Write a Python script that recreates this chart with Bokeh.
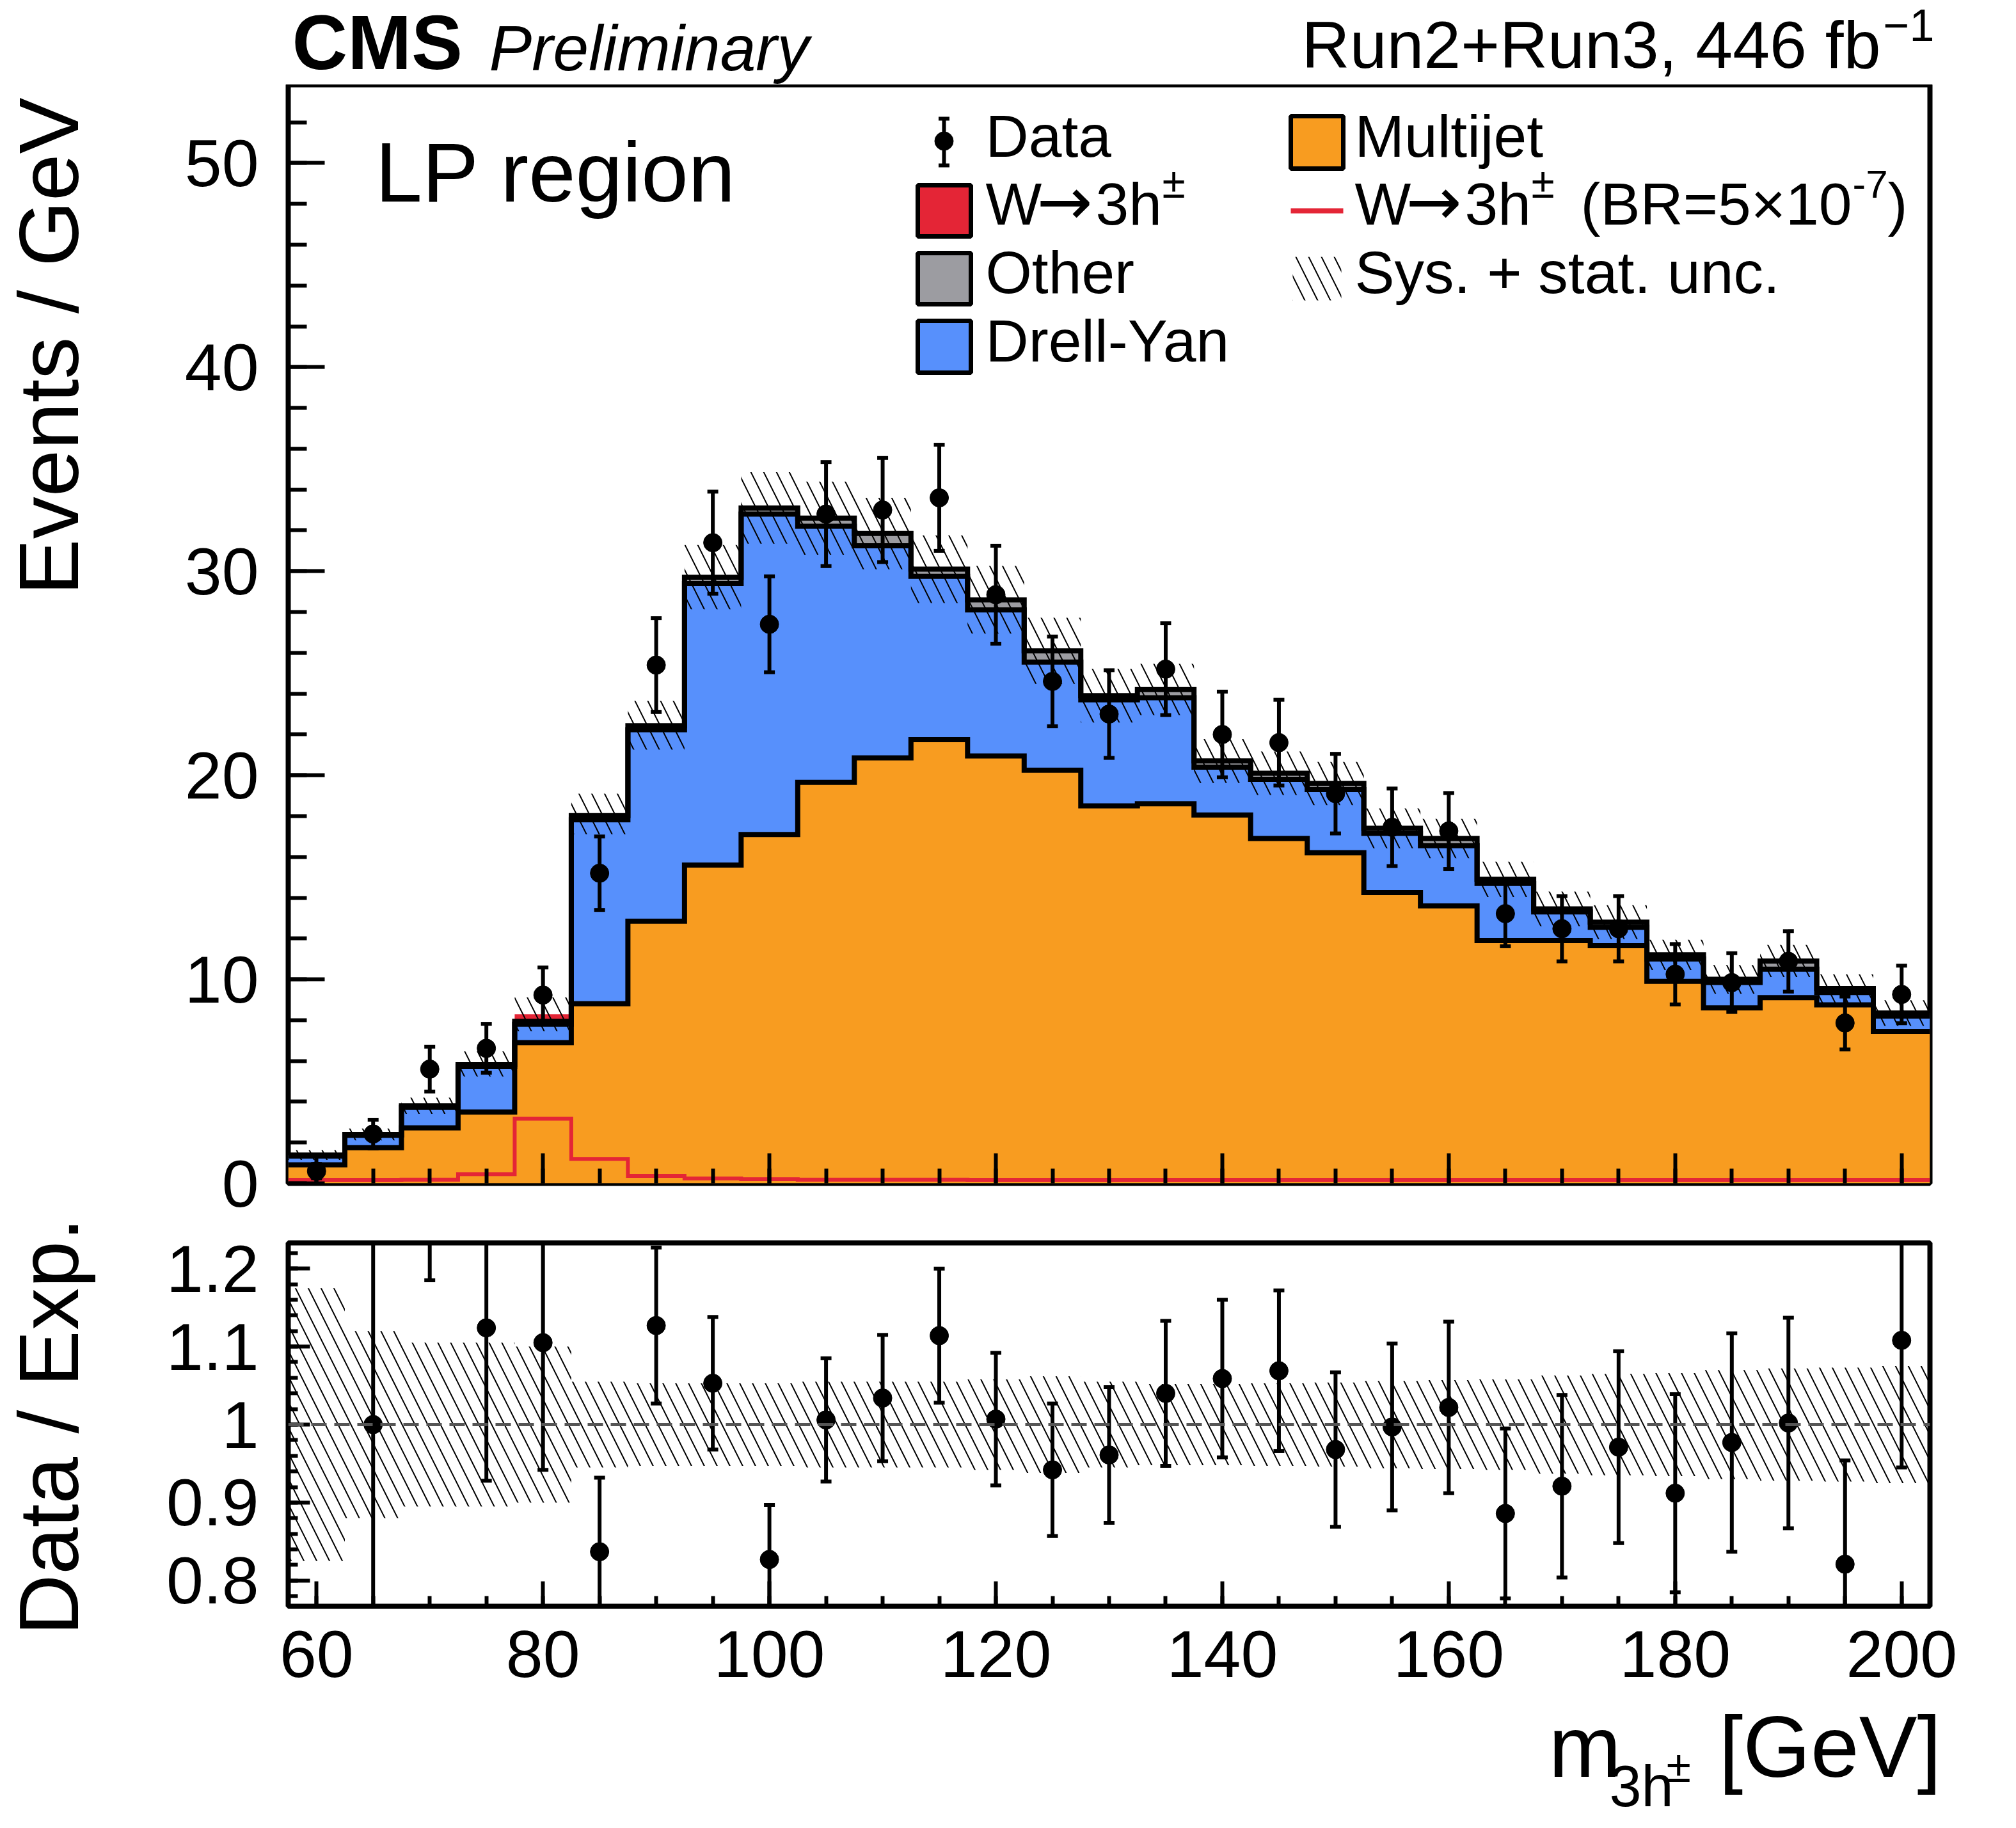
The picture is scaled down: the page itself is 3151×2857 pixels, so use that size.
import math
from bokeh.plotting import figure
from bokeh.layouts import column, row
from bokeh.models import Range1d, FixedTicker, Label, BoxAnnotation, Span
from bokeh.embed import file_html
from bokeh.resources import INLINE

# ---- values ----
bin_centers = [60, 65, 70, 75, 80, 85, 90, 95, 100, 105, 110, 115, 120, 125, 130,
               135, 140, 145, 150, 155, 160, 165, 170, 175, 180, 185, 190, 195, 200]
bin_width = 5

multijet = [0.91, 1.75, 2.72, 3.5, 6.9, 8.8, 12.85, 15.6, 17.1, 19.65, 20.85, 21.75, 20.95, 20.25, 18.5,
            18.6, 18.05, 16.9, 16.2, 14.25, 13.6, 11.9, 11.9, 11.65, 9.9, 8.6, 9.1, 8.75, 7.45]
drell_yan = [0.43, 0.6, 1.0, 2.22, 0.9, 9.02, 9.38, 13.8, 15.7, 12.55, 10.4, 8.0, 7.15, 5.3, 5.2,
             5.2, 2.35, 2.9, 3.1, 2.9, 2.95, 2.8, 1.4, 0.9, 1.1, 1.25, 1.4, 0.6, 0.75]
other = [0.05, 0.05, 0.08, 0.1, 0.14, 0.2, 0.2, 0.3, 0.3, 0.4, 0.6, 0.35, 0.5, 0.55, 0.2,
         0.4, 0.3, 0.3, 0.3, 0.25, 0.35, 0.2, 0.15, 0.25, 0.2, 0.15, 0.4, 0.2, 0.15]
signal_stack = [0.0, 0.0, 0.0, 0.03, 0.35, 0.08, 0.02, 0.01, 0.0, 0.0, 0.0, 0.0, 0.0, 0.0, 0.0,
                0.0, 0.0, 0.0, 0.0, 0.0, 0.0, 0.0, 0.0, 0.0, 0.0, 0.0, 0.0, 0.0, 0.0]
signal_br = [0.17, 0.17, 0.18, 0.45, 3.17, 1.2, 0.36, 0.24, 0.2, 0.18, 0.18, 0.18, 0.17, 0.17, 0.17,
             0.17, 0.17, 0.17, 0.17, 0.17, 0.17, 0.17, 0.17, 0.17, 0.17, 0.17, 0.17, 0.17, 0.17]
rel_unc = [0.175, 0.12, 0.105, 0.105, 0.10, 0.055, 0.053, 0.053, 0.053, 0.055, 0.055, 0.055, 0.058, 0.062, 0.055,
           0.052, 0.052, 0.053, 0.054, 0.056, 0.057, 0.058, 0.063, 0.065, 0.066, 0.07, 0.072, 0.073, 0.075]

data_y = [0.6, 2.42, 5.6, 6.62, 9.23, 15.2, 25.4, 31.4, 27.4, 32.8, 33.0, 33.6, 28.85, 24.6, 23.0,
          25.2, 22.0, 21.6, 19.1, 17.45, 17.27, 13.22, 12.48, 12.48, 10.25, 9.84, 10.88, 7.86, 9.26]
data_err = [0.35, 0.7, 1.1, 1.2, 1.35, 1.8, 2.3, 2.5, 2.35, 2.55, 2.55, 2.6, 2.4, 2.2, 2.15,
            2.25, 2.1, 2.1, 1.95, 1.9, 1.86, 1.6, 1.6, 1.6, 1.48, 1.44, 1.48, 1.3, 1.41]

ratio_y = [0.43, 1.0, 1.43, 1.124, 1.105, 0.837, 1.127, 1.053, 0.827, 1.006, 1.034, 1.114, 1.007, 0.942, 0.961,
           1.04, 1.059, 1.069, 0.968, 0.997, 1.022, 0.886, 0.921, 0.971, 0.912, 0.977, 1.002, 0.821, 1.108]
ratio_err = [0.3, 0.45, 0.245, 0.196, 0.163, 0.095, 0.10, 0.085, 0.07, 0.079, 0.081, 0.086, 0.085, 0.085, 0.087,
             0.093, 0.101, 0.103, 0.099, 0.107, 0.11, 0.109, 0.117, 0.123, 0.127, 0.14, 0.135, 0.133, 0.163]

y_ticks = [0, 10, 20, 30, 40, 50]
y_minor = [0, 2, 4, 6, 8, 10, 12, 14, 16, 18, 20, 22, 24, 26, 28, 30, 32, 34, 36, 38, 40, 42, 44, 46, 48, 50, 52]
x_ticks = [60, 80, 100, 120, 140, 160, 180, 200]
x_minor = bin_centers
r_ticks = [0.8, 0.9, 1.0, 1.1, 1.2]
r_labels = ["0.8", "0.9", "1", "1.1", "1.2"]
r_minor = [0.78, 0.8, 0.82, 0.84, 0.86, 0.88, 0.9, 0.92, 0.94, 0.96, 0.98, 1.0, 1.02, 1.04,
           1.06, 1.08, 1.1, 1.12, 1.14, 1.16, 1.18, 1.2, 1.22]

C_MJ = "#f89c20"
C_DY = "#5790fc"
C_OTHER = "#9c9ca1"
C_SIG = "#e42536"
FONT = "Liberation Sans"
ARROW_FONT = "DejaVu Sans"

# ---- page geometry (px) ----
PAGE_W = 3135
HEAD_H = 132          # header strip with CMS / lumi texts
LEFT_W = 160          # strip with the rotated axis titles
LB, RBORD = 290, 119  # borders of the panels
FW, FH = 2566, 1717
GAP1, GAP2 = 62, 31
RH, RBB = 568, 140
FOOT_H = 191          # strip with the x axis title
X0 = 8 + LEFT_W + LB
MTOP = 8 + HEAD_H
MBOT = MTOP + FH
RTOP = MBOT + GAP1 + GAP2
RBOT = RTOP + RH

XMIN, XMAX = 57.5, 202.5
YMAX = 53.84
RMIN, RMAX = 0.767, 1.233
MID = 0.35  # baseline to text-box middle, in em


def dx(px):
    return XMIN + (px - X0) * (XMAX - XMIN) / FW


def dy(py):
    return (MBOT - py) * YMAX / FH


def ident(v):
    return v


def text(fig, cx, cy, px, py, s, size, align="left", style="normal", rotated=False, font=FONT):
    # (px, py) is the page position of the text baseline
    if rotated:
        ax, ay, ang = px - MID * size, py, math.pi / 2
    else:
        ax, ay, ang = px, py - MID * size, 0.0
    fig.add_layout(Label(x=cx(ax), y=cy(ay), text=s, text_font=font,
                         text_font_size=f"{size}px", text_font_style=style,
                         text_align=align, text_baseline="middle",
                         angle=ang, text_color="black"))


def box(fig, l, r, t, b, color, line=True, **kw):
    fig.add_layout(BoxAnnotation(left=dx(l), right=dx(r), top=dy(t), bottom=dy(b),
                                 fill_color=color, fill_alpha=1.0 if color else 0.0,
                                 line_color="black" if line else None, line_alpha=1.0,
                                 line_width=7, **kw))


def strip(w, h, x0, y0):
    # blank figure whose data coordinates are page pixels
    f = figure(x_range=Range1d(x0, x0 + w), y_range=Range1d(y0 + h, y0), width=w, height=h,
               x_axis_type=None, y_axis_type=None, min_border=0, output_backend="svg",
               toolbar_location=None, tools="")
    f.outline_line_color = None
    f.xgrid.grid_line_color = None
    f.ygrid.grid_line_color = None
    return f


def style_axes(fig, xt, xm, yt, ym, xin, yin, xlabels=True):
    fig.xgrid.grid_line_color = None
    fig.ygrid.grid_line_color = None
    fig.outline_line_color = "black"
    fig.outline_line_width = 8
    fig.outline_line_alpha = 1.0
    for ax, ticks, minor, tin in ((fig.xaxis[0], xt, xm, xin), (fig.yaxis[0], yt, ym, yin)):
        ax.ticker = FixedTicker(ticks=ticks, minor_ticks=minor)
        ax.axis_line_color = None
        ax.major_tick_in = tin[0]
        ax.minor_tick_in = tin[1]
        ax.major_tick_out = 0
        ax.minor_tick_out = 0
        ax.major_tick_line_width = 6
        ax.minor_tick_line_width = 6
        ax.major_tick_line_color = "black"
        ax.minor_tick_line_color = "black"
        ax.major_label_text_font = FONT
        ax.major_label_text_font_size = "104px"
        ax.major_label_text_color = "black"
    fig.yaxis.major_label_standoff = 46
    fig.xaxis.major_label_standoff = 38
    if not xlabels:
        fig.xaxis.major_label_overrides = {t: "" for t in xt}
        fig.xaxis.major_label_text_font_size = "1px"
        fig.xaxis.major_label_standoff = 0


left = [c - bin_width / 2 for c in bin_centers]
edges = left + [bin_centers[-1] + bin_width / 2]


def ext(v):
    return list(v) + [v[-1]]


mj_top = list(multijet)
dy_top = [a + b for a, b in zip(mj_top, drell_yan)]
oth_top = [a + b for a, b in zip(dy_top, other)]
sig_top = [a + b for a, b in zip(oth_top, signal_stack)]
unc_lo = [t * (1 - u) for t, u in zip(sig_top, rel_unc)]
unc_hi = [t * (1 + u) for t, u in zip(sig_top, rel_unc)]
zeros = [0.0] * len(bin_centers)
HATCH = dict(hatch_pattern="\\", hatch_color="black", hatch_weight=2, hatch_scale=40)

# ---- main panel ----
p = figure(x_range=Range1d(XMIN, XMAX), y_range=Range1d(0, YMAX),
           frame_width=FW, frame_height=FH, min_border_left=LB, min_border_right=RBORD,
           min_border_top=0, min_border_bottom=GAP1, output_backend="svg",
           toolbar_location=None, tools="")
style_axes(p, x_ticks, x_minor, y_ticks, y_minor, (47, 23), (57, 29), xlabels=False)

p.varea_step(x=edges, y1=ext(zeros), y2=ext(mj_top), step_mode="after", fill_color=C_MJ)
p.varea_step(x=edges, y1=ext(mj_top), y2=ext(dy_top), step_mode="after", fill_color=C_DY)
p.varea_step(x=edges, y1=ext(dy_top), y2=ext(oth_top), step_mode="after", fill_color=C_OTHER)
p.varea_step(x=edges, y1=ext(oth_top), y2=ext(sig_top), step_mode="after", fill_color=C_SIG)
for top in (mj_top, dy_top, oth_top):
    p.step(x=edges, y=ext(top), mode="after", line_color="black", line_width=8, line_join="miter")

p.varea_step(x=edges, y1=ext(unc_lo), y2=ext(unc_hi), step_mode="after", fill_color=None, **HATCH)
p.step(x=edges, y=ext(signal_br), mode="after", line_color=C_SIG, line_width=6, line_join="miter")

d_lo = [v - e for v, e in zip(data_y, data_err)]
d_hi = [v + e for v, e in zip(data_y, data_err)]
p.segment(x0=bin_centers, y0=d_lo, x1=bin_centers, y1=d_hi, line_color="black", line_width=6)
p.scatter(x=bin_centers + bin_centers, y=d_lo + d_hi, marker="dash", size=17,
          line_color="black", line_width=6)
p.scatter(x=bin_centers, y=data_y, marker="circle", size=29, color="black")

text(p, dx, dy, 594, 323, "LP region", 132)

# legend
LS = 93
p.add_layout(BoxAnnotation(left=dx(1480), right=dx(1486), top=dy(193), bottom=dy(266),
                           fill_color="black", fill_alpha=1.0, line_color=None))
for cy in (193, 266):
    p.add_layout(BoxAnnotation(left=dx(1474.5), right=dx(1491.5), top=dy(cy - 3), bottom=dy(cy + 3),
                               fill_color="black", fill_alpha=1.0, line_color=None))
p.scatter(x=[dx(1483)], y=[dy(228)], marker="circle", size=29, color="black")
text(p, dx, dy, 1548, 253, "Data", LS)


def w3h(x):
    # "W -> 3h" with a superscript charge sign, starting at page x
    text(p, dx, dy, x, 359, "W", LS)
    text(p, dx, dy, x + 80, 359, "\u2192", 104, font=ARROW_FONT)
    text(p, dx, dy, x + 172, 359, "3h", LS)
    text(p, dx, dy, x + 276, 317, "\u00b1", 66)


box(p, 1442, 1525, 297, 377, C_SIG)
w3h(1548)
box(p, 1442, 1525, 403, 483, C_OTHER)
text(p, dx, dy, 1548, 466, "Other", LS)
box(p, 1442, 1525, 509, 590, C_DY)
text(p, dx, dy, 1548, 573, "Drell-Yan", LS)

box(p, 2025, 2107, 189, 271, C_MJ)
text(p, dx, dy, 2125, 253, "Multijet", LS)
p.add_layout(BoxAnnotation(left=dx(2025), right=dx(2107), top=dy(333), bottom=dy(341),
                           fill_color=C_SIG, fill_alpha=1.0, line_color=None))
w3h(2125)
text(p, dx, dy, 2478, 359, "(BR=5\u00d710", LS)
text(p, dx, dy, 2903, 317, "-7", 62)
text(p, dx, dy, 2958, 359, ")", LS)
box(p, 2028, 2104, 409, 477, None, line=False, **HATCH)
text(p, dx, dy, 2125, 466, "Sys. + stat. unc.", LS)

# ---- ratio panel ----
r = figure(x_range=p.x_range, y_range=Range1d(RMIN, RMAX),
           frame_width=FW, frame_height=RH, min_border_left=LB, min_border_right=RBORD,
           min_border_top=GAP2, min_border_bottom=RBB, output_backend="svg",
           toolbar_location=None, tools="")
style_axes(r, x_ticks, x_minor, r_ticks, r_minor, (39, 16), (34, 15))
r.yaxis.major_label_overrides = dict(zip(r_ticks, r_labels))

r_lo = [1 - u for u in rel_unc]
r_hi = [1 + u for u in rel_unc]
r.varea_step(x=edges, y1=ext(r_lo), y2=ext(r_hi), step_mode="after", fill_color=None, **HATCH)
r.add_layout(Span(location=1.0, dimension="width", line_color="#555555", line_width=5,
                  line_dash="24 12"))

q_lo = [v - e for v, e in zip(ratio_y, ratio_err)]
q_hi = [v + e for v, e in zip(ratio_y, ratio_err)]
r.segment(x0=bin_centers, y0=q_lo, x1=bin_centers, y1=q_hi, line_color="black", line_width=6)
r.scatter(x=bin_centers + bin_centers, y=q_lo + q_hi, marker="dash", size=17,
          line_color="black", line_width=6)
r.scatter(x=bin_centers, y=ratio_y, marker="circle", size=29, color="black")

# ---- text strips around the panels ----
head = strip(PAGE_W, HEAD_H, 8, 8)
text(head, ident, ident, 464, 115, "CMS", 120, style="bold")
text(head, ident, ident, 772, 117, "Preliminary", 100, style="italic")
text(head, ident, ident, 2947, 114, "Run2+Run3, 446 fb", 104, align="right")
text(head, ident, ident, 2951, 71, "\u22121", 70)

side = strip(LEFT_W, RBOT + RBB - MTOP, 8, MTOP)
text(side, ident, ident, 130, 160, "Events / GeV", 132, align="right", rotated=True)
text(side, ident, ident, 130, RTOP + RH / 2 + 3, "Data / Exp.", 132, align="center", rotated=True)

foot = strip(PAGE_W, FOOT_H, 8, RBOT + RBB)
text(foot, ident, ident, 2428, 2785, "m", 136)
text(foot, ident, ident, 2523, 2831, "3h", 90)
text(foot, ident, ident, 2612, 2793, "\u00b1", 70)
text(foot, ident, ident, 2694, 2785, "[GeV]", 136)

layout = column(head, row(side, column(p, r)), foot)
open("out.html", "w").write(file_html(layout, INLINE))
